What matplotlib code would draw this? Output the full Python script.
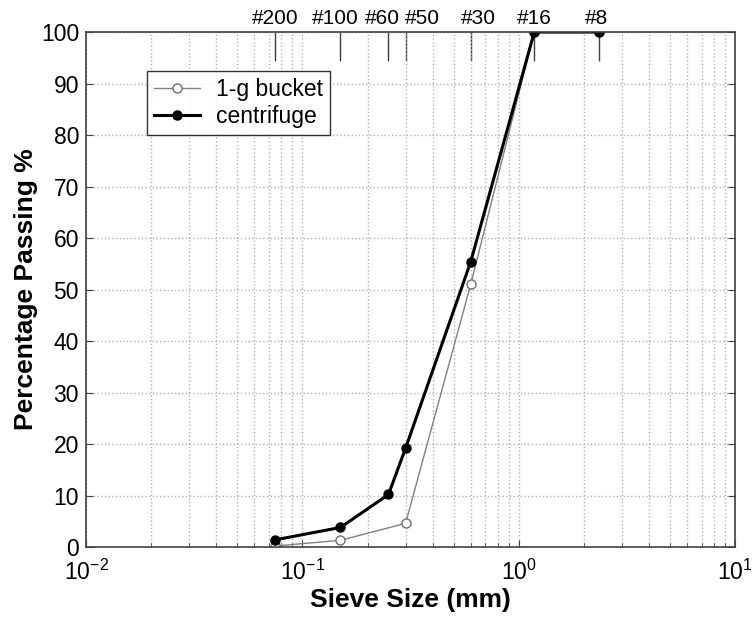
import numpy as np
import matplotlib
matplotlib.use("Agg")
import matplotlib.pyplot as plt
import matplotlib.transforms as mtransforms
from matplotlib.ticker import LogLocator, NullLocator, FixedLocator

plt.rcParams['font.family'] = ['Liberation Sans', 'DejaVu Sans']
plt.rcParams['mathtext.default'] = 'regular'

# sieve sizes (mm) and their numbers
sieve_mm = [0.075, 0.15, 0.25, 0.3, 0.6, 1.18, 2.36]
sieve_labels = ['#200', '#100', '#60', '#50', '#30', '#16', '#8']

# 1-g bucket sample
bucket_mm = [0.075, 0.15, 0.3, 0.6, 1.18, 2.36]
bucket_pass = [0.2, 1.3, 4.6, 51.0, 100.0, 100.0]

# centrifuge sample
centri_mm = [0.075, 0.15, 0.25, 0.3, 0.6, 1.18, 2.36]
centri_pass = [1.4, 3.8, 10.2, 19.2, 55.4, 100.0, 100.0]

fig = plt.figure(figsize=(7.56, 6.2), dpi=100)
ax = fig.add_axes([0.1138, 0.1177, 0.8585, 0.8306])

ax.plot(bucket_mm, bucket_pass, color='#808080', lw=1.0, marker='o', ms=6.5,
        mfc='white', mec='#707070', mew=1.0, label='1-g bucket')
ax.plot(centri_mm, centri_pass, color='black', lw=2.2, marker='o', ms=6.5,
        mfc='black', mec='black', label='centrifuge')

ax.set_xscale('log')
ax.set_xlim(0.01, 10)
ax.set_ylim(0, 100)
ax.set_yticks(np.arange(0, 101, 10))
ax.xaxis.set_minor_locator(LogLocator(base=10, subs=np.arange(2, 10)))

ax.grid(True, which='major', color='#b0b0b0', ls=':', lw=1.0)
ax.grid(True, which='minor', axis='x', color='#b0b0b0', ls=':', lw=1.0)

ax.tick_params(which='both', direction='in', right=True, top=False,
               labelsize=16.5, color='#404040')
ax.tick_params(axis='x', pad=9)
ax.tick_params(axis='y', pad=5)
ax.tick_params(which='major', length=5)
ax.tick_params(which='minor', length=3)
for s in ax.spines.values():
    s.set_color('#404040')
    s.set_linewidth(1.2)

ax.set_xlabel('Sieve Size (mm)', fontsize=19, fontweight='bold', labelpad=2)
ax.set_ylabel('Percentage Passing %', fontsize=19, fontweight='bold', labelpad=2)

# sieve numbers along the top
sec = ax.secondary_xaxis('top')
sec.xaxis.set_major_locator(FixedLocator(sieve_mm))
sec.xaxis.set_minor_locator(NullLocator())
sec.set_xticks(sieve_mm, labels=sieve_labels)
sec.tick_params(direction='in', length=21, width=1.0, color='#404040',
                labelsize=15, pad=3)
sec.spines['top'].set_visible(False)

# nudge crowded labels sideways (pixels)
shift_px = [0, -5, -6, 17, 8, 0, -3]
for lab, dx in zip(sec.get_xticklabels(), shift_px):
    off = mtransforms.ScaledTranslation(dx / 100.0, 0, fig.dpi_scale_trans)
    lab.set_transform(lab.get_transform() + off)

leg = ax.legend(loc='upper left', bbox_to_anchor=(0.094, 0.925), fontsize=16.5,
                frameon=True, fancybox=False, edgecolor='black',
                handlelength=2.0, borderpad=0.3, labelspacing=0.2,
                handletextpad=0.7, borderaxespad=0)
leg.get_frame().set_linewidth(1.0)

fig.savefig('out.png', dpi=100)
